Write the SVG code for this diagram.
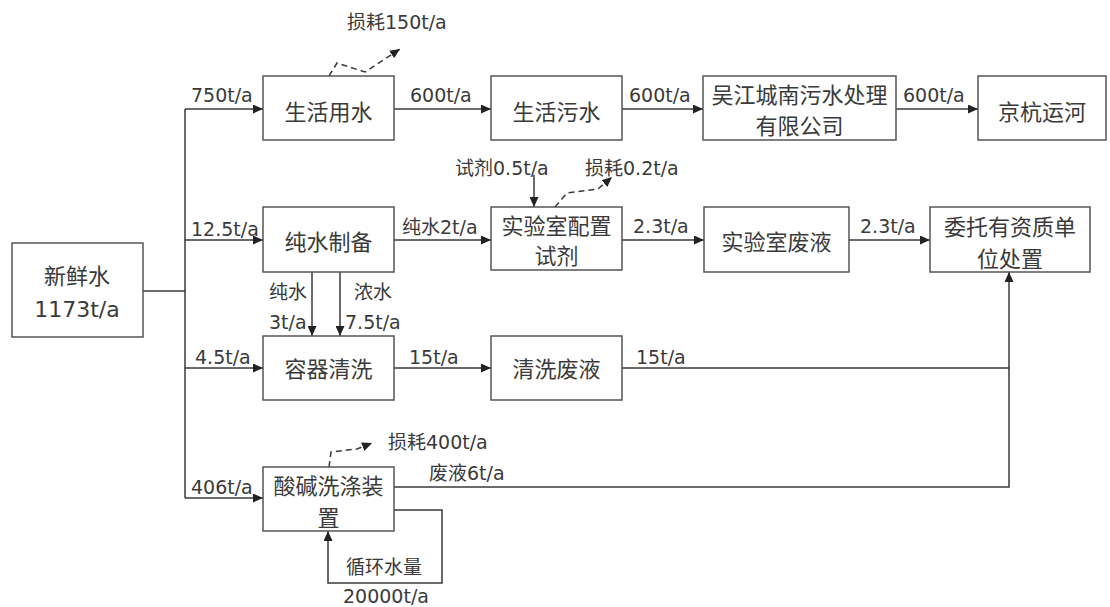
<svg xmlns="http://www.w3.org/2000/svg" width="1110" height="607" viewBox="0 0 1110 607">
<defs>
<style>
.box{fill:#fff;stroke:#555;stroke-width:1.5}
.t{font-family:"DejaVu Sans","Noto Sans CJK SC",sans-serif;font-size:22px;fill:#3a3a3a;text-anchor:middle;dominant-baseline:central}
.l{font-family:"DejaVu Sans","Noto Sans CJK SC",sans-serif;font-size:19px;fill:#3a3a3a;dominant-baseline:central}
.c{fill:none;stroke:#3a3a3a;stroke-width:1.5}
.a{marker-end:url(#ah)}
.d{stroke-dasharray:6,4}
</style>
<marker id="ah" markerUnits="userSpaceOnUse" markerWidth="11" markerHeight="9" refX="10" refY="4.5" orient="auto">
<path d="M0,0 L10,4.5 L0,9 z" fill="#222"/>
</marker>
</defs>
<rect width="1110" height="607" fill="#fff"/>

<g id="connectors">
<path class="c" d="M142,291 H185"/>
<path class="c" d="M185,109 V498"/>
<path class="c a" d="M185,109 H263"/>
<path class="c a" d="M185,240 H263"/>
<path class="c a" d="M185,368 H263"/>
<path class="c a" d="M185,498 H263"/>
<path class="c a" d="M394,109 H491"/>
<path class="c a" d="M622,109 H703"/>
<path class="c a" d="M896,109 H978"/>
<path class="c a" d="M394,240 H491"/>
<path class="c a" d="M622,240 H704"/>
<path class="c a" d="M849,240 H930"/>
<path class="c a" d="M312,272 V336"/>
<path class="c a" d="M340,272 V336"/>
<path class="c a" d="M394,368 H491"/>
<path class="c" d="M622,368 H1009"/>
<path class="c a" d="M394,487 H1009 V272"/>
<path class="c a" d="M534,175 V207"/>
<path class="c a" d="M394,510 H442 V583 H328 V531"/>
<path class="c d a" d="M329,76 L337,63 L365,72 L400,49"/>
<path class="c d a" d="M555,207 L567,193 L598,189 L612,177"/>
<path class="c d a" d="M329,467 L331,452 L357,449 L372,443"/>
</g>

<g id="n-xinxianshui"><rect class="box" x="12" y="243" width="131" height="94"/><text class="t" x="77" y="276">新鲜水</text><text class="t" x="77" y="309">1173t/a</text></g>
<g id="n-shenghuoyongshui"><rect class="box" x="263" y="76" width="131" height="64"/><text class="t" x="328.5" y="112">生活用水</text></g>
<g id="n-shenghuowushui"><rect class="box" x="491" y="76" width="131" height="64"/><text class="t" x="556.5" y="112">生活污水</text></g>
<g id="n-wujiang"><rect class="box" x="703" y="76" width="193" height="64"/><text class="t" x="799.5" y="95">吴江城南污水处理</text><text class="t" x="799.5" y="126">有限公司</text></g>
<g id="n-jinghang"><rect class="box" x="978" y="76" width="128" height="64"/><text class="t" x="1042" y="112">京杭运河</text></g>
<g id="n-chunshui"><rect class="box" x="263" y="207" width="131" height="65"/><text class="t" x="328.5" y="242">纯水制备</text></g>
<g id="n-peizhi"><rect class="box" x="491" y="207" width="131" height="63"/><text class="t" x="556.5" y="226">实验室配置</text><text class="t" x="556.5" y="256">试剂</text></g>
<g id="n-feiye"><rect class="box" x="704" y="207" width="145" height="65"/><text class="t" x="776.5" y="242">实验室废液</text></g>
<g id="n-weituo"><rect class="box" x="930" y="207" width="160" height="65"/><text class="t" x="1010" y="227">委托有资质单</text><text class="t" x="1010" y="259">位处置</text></g>
<g id="n-rongqi"><rect class="box" x="263" y="336" width="131" height="64"/><text class="t" x="328.5" y="369">容器清洗</text></g>
<g id="n-qingxi"><rect class="box" x="491" y="336" width="131" height="64"/><text class="t" x="556.5" y="369">清洗废液</text></g>
<g id="n-suanjian"><rect class="box" x="263" y="467" width="131" height="64"/><text class="t" x="328.5" y="486">酸碱洗涤装</text><text class="t" x="328.5" y="518">置</text></g>

<g id="labels">
<text class="l" x="347" y="22">损耗150t/a</text>
<text class="l" x="191" y="95">750t/a</text>
<text class="l" x="410" y="95">600t/a</text>
<text class="l" x="629" y="95">600t/a</text>
<text class="l" x="903" y="95">600t/a</text>
<text class="l" x="455" y="168">试剂0.5t/a</text>
<text class="l" x="585" y="168">损耗0.2t/a</text>
<text class="l" x="191" y="229">12.5t/a</text>
<text class="l" x="402" y="227">纯水2t/a</text>
<text class="l" x="633" y="226">2.3t/a</text>
<text class="l" x="860" y="226">2.3t/a</text>
<text class="l" x="269" y="292">纯水</text>
<text class="l" x="269" y="322">3t/a</text>
<text class="l" x="354" y="292">浓水</text>
<text class="l" x="345" y="322">7.5t/a</text>
<text class="l" x="195" y="357">4.5t/a</text>
<text class="l" x="409" y="357">15t/a</text>
<text class="l" x="636" y="357">15t/a</text>
<text class="l" x="388" y="442">损耗400t/a</text>
<text class="l" x="429" y="473">废液6t/a</text>
<text class="l" x="191" y="487">406t/a</text>
<text class="l" x="346" y="567">循环水量</text>
<text class="l" x="343" y="596">20000t/a</text>
</g>
</svg>
